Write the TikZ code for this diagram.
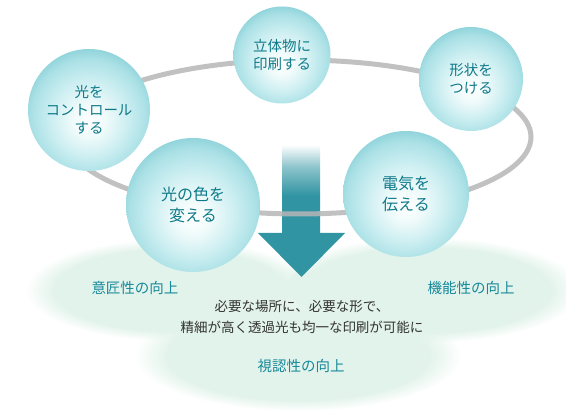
\documentclass[tikz,border=0pt]{standalone}
\usepackage{fontspec}
\setmainfont{Noto Sans CJK JP}
\usetikzlibrary{fadings}
\definecolor{ringgray}{HTML}{B6B6B6}
\definecolor{mint}{HTML}{E2F3EB}
\definecolor{arrowteal}{HTML}{3094A2}
\definecolor{labteal}{HTML}{17899A}
\definecolor{bubtxt}{HTML}{0E7A89}
\definecolor{txtgray}{HTML}{333333}
\definecolor{bubA}{HTML}{EFFAFA}
\definecolor{bubB}{HTML}{CBEEF1}
\definecolor{bubC}{HTML}{ABE1E6}
\definecolor{bubD}{HTML}{89D0D8}
\pgfdeclareradialshading{bubbleshade}{\pgfpoint{0bp}{-5bp}}{%
  color(0bp)=(white); color(7bp)=(bubA); color(16bp)=(bubB);
  color(23.5bp)=(bubC); color(28.5bp)=(bubD); color(50bp)=(bubD)}
\pgfdeclareverticalshading{shaftshade}{100bp}{%
  color(0bp)=(arrowteal); color(46bp)=(arrowteal); color(62bp)=(arrowteal!55!white); color(74bp)=(white); color(100bp)=(white)}
\tikzset{
  bubble/.style={circle, inner sep=0pt, shading=bubbleshade, align=center,
    text=bubtxt, font=\fontsize{14.5}{18}\selectfont},
  bigbubble/.style={bubble, font=\fontsize{16}{20.5}\selectfont},
  ringline/.style={draw=ringgray, line width=5pt, opacity=0.85},
  blob/.style={fill=mint, path fading=circle with fuzzy edge 20 percent},
  gain/.style={text=labteal, font=\fontsize{14.5}{18}\selectfont},
  note/.style={text=txtgray, align=center, font=\fontsize{13.5}{21}\selectfont}
}
\begin{document}
\begin{tikzpicture}[x=1pt,y=-1pt]
\useasboundingbox (0,0) rectangle (566,411);
% soft background areas
\fill[blob] (170,290) ellipse [x radius=144, y radius=51];
\fill[blob] (425,290) ellipse [x radius=156, y radius=53];
\fill[blob] (298,356) ellipse [x radius=163, y radius=55];
\fill[blob] (303,287) circle [radius=18];
% arrow
\shade[shading=shaftshade] (282,143) rectangle (320,234);
\fill[arrowteal] (258,233) -- (345,233) -- (301.5,277) -- cycle;
% ring
\draw[ringline] (299,137) ellipse [x radius=232, y radius=77];
% bubbles
\node[bubble, minimum size=97pt] (print3d) at (282,55) {立体物に\\印刷する};
\node[bubble, minimum size=122pt] (light) at (89,110) {光を\\コントロール\\する};
\node[bubble, minimum size=104pt] (shape) at (471,79) {形状を\\つける};
\node[bigbubble, minimum size=134pt] (color) at (193,205) {光の色を\\変える};
\node[bigbubble, minimum size=126pt] (elec) at (406,194) {電気を\\伝える};
% labels
\node[gain] (design) at (135,288) {意匠性の向上};
\node[gain] (func) at (471,288) {機能性の向上};
\node[gain] (vis) at (301,366) {視認性の向上};
\node[note] (desc) at (302,317) {必要な場所に、必要な形で、\\精細が高く透過光も均一な印刷が可能に};
\end{tikzpicture}
\end{document}
